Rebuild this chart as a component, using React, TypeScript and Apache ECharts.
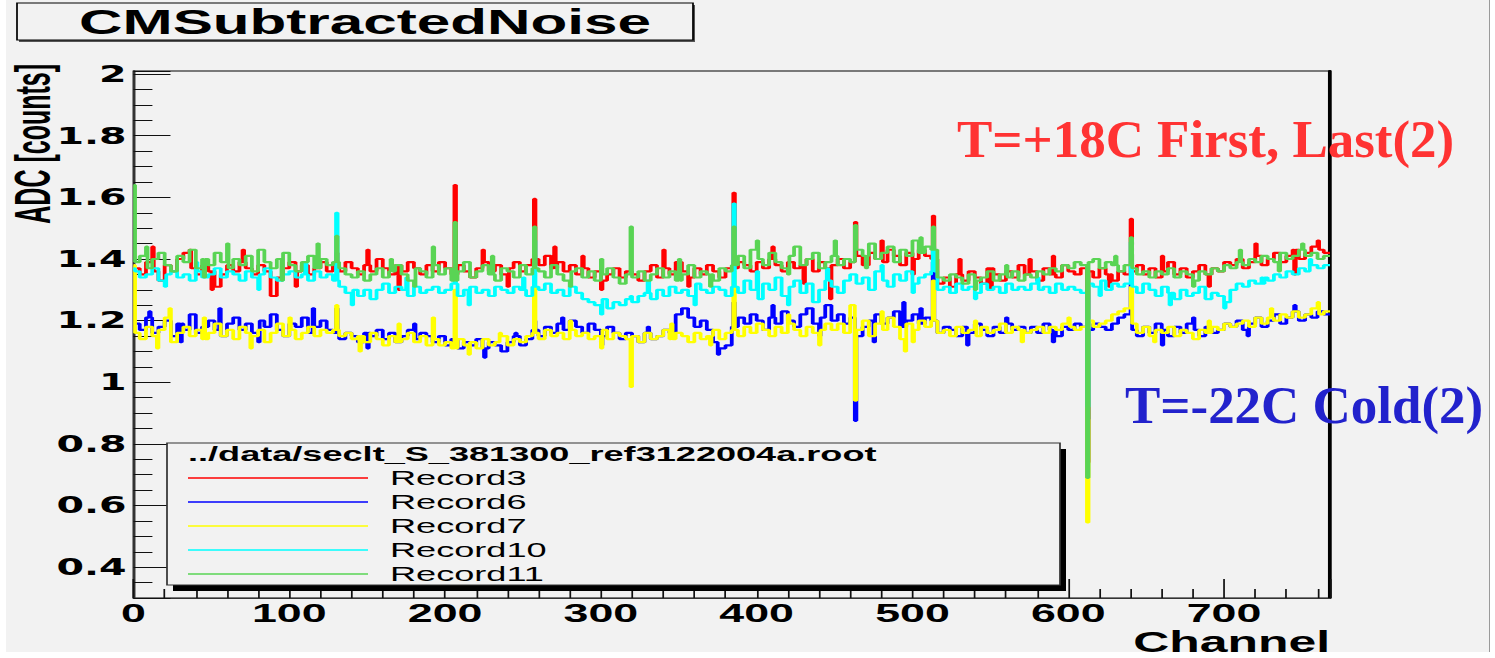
import React, { useEffect, useRef } from "react";
import * as echarts from "echarts";

// ---------------- data ----------------
const channelCount = 768;
const binWidth = 4; // channels per value in the *Bins arrays

// Record3 (red)
const record3Bins = [
  1.37,1.35,1.39,1.36,1.33,1.38,1.36,1.40,1.42,1.37,1.35,1.38,1.36,1.31,1.35,1.38,
  1.36,1.39,1.37,1.35,1.38,1.36,1.28,1.34,1.37,1.39,1.36,1.38,1.35,1.37,1.39,1.36,
  1.38,1.36,1.39,1.37,1.35,1.38,1.36,1.40,1.37,1.35,1.38,1.36,1.39,1.37,1.35,1.38,
  1.36,1.39,1.37,1.35,1.38,1.36,1.34,1.37,1.39,1.36,1.38,1.35,1.37,1.39,1.36,1.38,
  1.40,1.38,1.41,1.37,1.39,1.36,1.38,1.35,1.37,1.34,1.36,1.33,1.35,1.37,1.34,1.36,
  1.35,1.33,1.36,1.38,1.34,1.37,1.35,1.39,1.36,1.34,1.37,1.35,1.38,1.36,1.34,1.37,
  1.37,1.39,1.38,1.36,1.39,1.37,1.40,1.38,1.36,1.39,1.37,1.38,1.40,1.36,1.39,1.37,
  1.38,1.40,1.37,1.39,1.41,1.38,1.42,1.40,1.39,1.43,1.41,1.38,1.42,1.40,1.43,1.41,
  1.40,1.32,1.34,1.31,1.35,1.33,1.36,1.34,1.32,1.37,1.35,1.33,1.36,1.34,1.38,1.35,
  1.36,1.33,1.37,1.35,1.34,1.38,1.36,1.35,1.37,1.36,1.34,1.37,1.35,1.33,1.36,1.35,
  1.36,1.38,1.35,1.37,1.34,1.36,1.39,1.35,1.37,1.34,1.36,1.38,1.35,1.37,1.36,1.39,
  1.38,1.40,1.37,1.39,1.41,1.38,1.40,1.42,1.39,1.41,1.43,1.40,1.42,1.44,1.43,1.42,
];
const record3Spikes: [number, number][] = [
  [0,1.36],[36,1.43],[130,1.42],[206,1.64],[257,1.595],[288,1.41],[319,1.36],[385,1.615],
  [447,1.27],[463,1.52],[513,1.54],[575,1.40],[612,0.74],[640,1.53],
  [12,1.44],[50,1.30],[70,1.43],[104,1.31],[150,1.43],[170,1.30],[224,1.43],[240,1.31],
  [270,1.44],[300,1.30],[340,1.43],[356,1.31],[410,1.44],[430,1.32],[480,1.46],[500,1.35],
  [530,1.40],[550,1.30],[590,1.41],[626,1.31],[660,1.41],[690,1.31],[720,1.45],[745,1.35],[760,1.46],
];

// Record6 (blue)
const record6Bins = [
  1.19,1.17,1.21,1.16,1.18,1.20,1.15,1.19,1.17,1.22,1.16,1.18,1.20,1.17,1.15,1.19,
  1.21,1.17,1.19,1.16,1.20,1.18,1.22,1.17,1.15,1.19,1.18,1.21,1.16,1.18,1.20,1.17,
  1.16,1.14,1.16,1.15,1.13,1.16,1.15,1.17,1.14,1.16,1.13,1.15,1.17,1.14,1.16,1.15,
  1.13,1.15,1.12,1.14,1.11,1.13,1.12,1.14,1.11,1.13,1.12,1.10,1.13,1.15,1.12,1.14,
  1.17,1.15,1.18,1.16,1.19,1.17,1.20,1.18,1.16,1.19,1.17,1.15,1.18,1.16,1.14,1.16,
  1.15,1.13,1.16,1.14,1.15,1.17,1.16,1.22,1.24,1.21,1.18,1.20,1.17,1.13,1.11,1.12,
  1.18,1.21,1.19,1.22,1.20,1.17,1.21,1.19,1.23,1.20,1.18,1.22,1.24,1.19,1.21,1.25,
  1.20,1.22,1.19,1.21,1.15,1.18,1.20,1.22,1.19,1.21,1.23,1.18,1.20,1.22,1.19,1.21,
  1.20,1.16,1.18,1.17,1.15,1.18,1.16,1.19,1.17,1.15,1.18,1.16,1.19,1.17,1.18,1.16,
  1.18,1.16,1.19,1.17,1.15,1.18,1.17,1.19,1.18,1.17,1.19,1.18,1.17,1.19,1.21,1.22,
  1.17,1.15,1.18,1.16,1.19,1.17,1.15,1.18,1.16,1.19,1.17,1.15,1.18,1.16,1.17,1.19,
  1.18,1.20,1.17,1.19,1.21,1.18,1.20,1.22,1.19,1.21,1.23,1.20,1.22,1.21,1.23,1.22,
];
const record6Spikes: [number, number][] = [
  [0,1.19],[130,1.24],[257,1.20],[385,1.26],[463,0.875],[494,1.26],[513,1.39],[612,0.88],[640,1.32],
  [10,1.23],[30,1.13],[55,1.24],[80,1.13],[115,1.24],[150,1.11],[180,1.19],[225,1.08],
  [245,1.16],[275,1.21],[300,1.12],[330,1.18],[375,1.09],[410,1.25],[440,1.15],[475,1.13],
  [505,1.24],[535,1.12],[560,1.21],[590,1.13],[660,1.12],[680,1.21],[715,1.15],[745,1.25],
];

// Record7 (yellow)
const record7Bins = [
  1.16,1.14,1.18,1.15,1.17,1.21,1.13,1.16,1.18,1.15,1.17,1.14,1.16,1.19,1.15,1.17,
  1.14,1.18,1.16,1.15,1.17,1.13,1.16,1.19,1.15,1.17,1.14,1.16,1.18,1.15,1.17,1.16,
  1.17,1.15,1.16,1.14,1.15,1.13,1.16,1.14,1.12,1.15,1.13,1.14,1.16,1.13,1.15,1.12,
  1.14,1.12,1.13,1.11,1.14,1.12,1.13,1.11,1.14,1.12,1.13,1.15,1.12,1.14,1.13,1.15,
  1.16,1.14,1.17,1.15,1.16,1.14,1.17,1.15,1.16,1.14,1.15,1.17,1.14,1.16,1.15,1.14,
  1.15,1.13,1.16,1.14,1.15,1.17,1.14,1.16,1.15,1.13,1.16,1.14,1.15,1.17,1.14,1.16,
  1.17,1.15,1.18,1.16,1.19,1.17,1.15,1.18,1.16,1.19,1.17,1.15,1.18,1.16,1.17,1.19,
  1.17,1.19,1.16,1.25,1.17,1.20,1.15,1.19,1.17,1.21,1.18,1.14,1.19,1.17,1.20,1.18,
  1.20,1.16,1.17,1.15,1.18,1.16,1.17,1.15,1.18,1.16,1.17,1.19,1.16,1.18,1.17,1.16,
  1.17,1.18,1.16,1.18,1.17,1.19,1.18,1.17,1.18,1.20,1.18,1.19,1.20,1.22,1.23,1.24,
  1.19,1.16,1.18,1.15,1.17,1.16,1.18,1.15,1.17,1.16,1.14,1.17,1.16,1.18,1.17,1.19,
  1.18,1.19,1.20,1.18,1.21,1.19,1.21,1.20,1.22,1.21,1.23,1.21,1.22,1.24,1.22,1.23,
];
const record7Spikes: [number, number][] = [
  [0,1.38],[23,1.24],[130,1.25],[192,1.21],[206,1.30],[257,1.31],[319,0.985],[385,1.36],
  [462,1.25],[463,0.94],[495,1.10],[513,1.33],[612,0.545],[640,1.31],
  [15,1.11],[45,1.21],[75,1.11],[100,1.21],[145,1.10],[170,1.19],[215,1.09],[235,1.16],
  [280,1.20],[300,1.11],[345,1.19],[370,1.12],[420,1.22],[440,1.12],[480,1.23],[500,1.13],
  [540,1.20],[570,1.13],[600,1.21],[655,1.13],[690,1.20],[730,1.24],[760,1.26],
];

// Record10 (cyan)
const record10Bins = [
  1.36,1.34,1.35,1.37,1.33,1.35,1.36,1.34,1.35,1.33,1.36,1.34,1.35,1.37,1.34,1.36,
  1.35,1.33,1.36,1.34,1.35,1.37,1.34,1.33,1.35,1.36,1.34,1.35,1.33,1.36,1.34,1.35,
  1.33,1.31,1.29,1.30,1.28,1.30,1.27,1.30,1.32,1.29,1.31,1.30,1.28,1.31,1.29,1.30,
  1.31,1.29,1.30,1.32,1.28,1.30,1.31,1.29,1.30,1.28,1.31,1.30,1.29,1.31,1.30,1.28,
  1.31,1.30,1.32,1.29,1.30,1.28,1.31,1.29,1.27,1.26,1.25,1.27,1.24,1.26,1.25,1.27,
  1.26,1.28,1.29,1.27,1.30,1.28,1.31,1.29,1.30,1.28,1.32,1.30,1.29,1.31,1.30,1.28,
  1.31,1.29,1.33,1.30,1.27,1.32,1.30,1.34,1.28,1.31,1.33,1.29,1.32,1.26,1.30,1.33,
  1.31,1.29,1.33,1.35,1.32,1.34,1.30,1.36,1.33,1.31,1.35,1.33,1.36,1.32,1.34,1.35,
  1.36,1.30,1.31,1.29,1.32,1.30,1.31,1.29,1.32,1.30,1.31,1.29,1.32,1.30,1.31,1.30,
  1.32,1.30,1.31,1.29,1.32,1.30,1.31,1.30,1.29,1.32,1.31,1.33,1.30,1.32,1.31,1.32,
  1.31,1.29,1.32,1.30,1.28,1.31,1.29,1.27,1.30,1.28,1.29,1.31,1.27,1.29,1.28,1.26,
  1.30,1.32,1.31,1.33,1.32,1.34,1.33,1.35,1.34,1.36,1.35,1.37,1.36,1.38,1.37,1.38,
];
const record10Spikes: [number, number][] = [
  [0,1.37],[130,1.55],[206,1.36],[257,1.46],[319,1.28],[385,1.58],[513,1.44],[612,0.92],[640,1.455],
  [20,1.31],[40,1.39],[80,1.30],[110,1.39],[140,1.25],[175,1.34],[215,1.25],[250,1.34],
  [300,1.22],[330,1.33],[360,1.25],[400,1.36],[420,1.25],[445,1.37],[480,1.38],[500,1.29],
  [540,1.27],[580,1.34],[620,1.28],[665,1.25],[700,1.24],[725,1.32],[755,1.40],
];

// Record11 (green)
const record11Bins = [
  1.39,1.41,1.37,1.40,1.42,1.38,1.36,1.41,1.39,1.43,1.37,1.40,1.38,1.42,1.39,1.37,
  1.40,1.38,1.41,1.36,1.43,1.39,1.37,1.40,1.42,1.38,1.36,1.39,1.41,1.37,1.40,1.38,
  1.39,1.37,1.35,1.34,1.36,1.33,1.35,1.37,1.34,1.36,1.38,1.35,1.33,1.37,1.36,1.34,
  1.38,1.35,1.37,1.33,1.36,1.39,1.34,1.36,1.38,1.35,1.33,1.37,1.36,1.34,1.38,1.35,
  1.37,1.36,1.34,1.38,1.35,1.33,1.36,1.37,1.34,1.36,1.33,1.35,1.37,1.34,1.32,1.35,
  1.34,1.36,1.33,1.35,1.37,1.34,1.36,1.33,1.35,1.38,1.34,1.36,1.35,1.33,1.37,1.36,
  1.38,1.41,1.37,1.43,1.40,1.38,1.42,1.39,1.37,1.41,1.44,1.38,1.40,1.42,1.37,1.39,
  1.41,1.38,1.40,1.39,1.43,1.41,1.45,1.40,1.42,1.44,1.39,1.43,1.41,1.46,1.42,1.44,
  1.43,1.34,1.33,1.35,1.34,1.32,1.35,1.33,1.34,1.36,1.33,1.35,1.34,1.36,1.33,1.35,
  1.34,1.36,1.35,1.37,1.36,1.38,1.37,1.39,1.38,1.39,1.40,1.37,1.39,1.38,1.36,1.38,
  1.37,1.35,1.36,1.34,1.36,1.35,1.37,1.34,1.36,1.35,1.33,1.36,1.35,1.37,1.36,1.38,
  1.37,1.39,1.38,1.40,1.39,1.41,1.40,1.39,1.42,1.40,1.41,1.43,1.41,1.42,1.40,1.41,
];
const record11Spikes: [number, number][] = [
  [0,1.64],[130,1.475],[192,1.44],[206,1.52],[257,1.505],[319,1.505],[385,1.505],
  [463,1.51],[513,1.505],[612,0.69],[640,1.47],
  [8,1.44],[45,1.34],[60,1.45],[95,1.33],[118,1.45],[165,1.40],[180,1.31],[230,1.41],
  [280,1.31],[300,1.40],[350,1.40],[370,1.31],[400,1.46],[420,1.35],[450,1.46],[470,1.37],
  [505,1.47],[540,1.30],[560,1.38],[630,1.41],[680,1.31],[710,1.43],[735,1.36],[750,1.45],
];

const seriesNames = ["Record3", "Record6", "Record7", "Record10", "Record11"];
const seriesColors = ["#ff0000", "#0000ff", "#ffff00", "#00ffff", "#59d454"];
const seriesBins = [record3Bins, record6Bins, record7Bins, record10Bins, record11Bins];
const seriesSpikes = [record3Spikes, record6Spikes, record7Spikes, record10Spikes, record11Spikes];

const yMin = 0.3;
const yMax = 2.01;
const yTickStep = 0.2;
const xTickStep = 100;

const titleText = "CMSubtractedNoise";
const xAxisTitle = "Channel";
const yAxisTitle = "ADC [counts]";
const legendHeader = "../data/seclt_S_381300_ref3122004a.root";
const hotLabel = "T=+18C First, Last(2)";
const coldLabel = "T=-22C Cold(2)";

// ---------------- layout ----------------
const PAGE_W = 1495;
const PAGE_H = 658;
const CW = 869; // chart drawn at this width, then stretched horizontally (like the reference)
const S = PAGE_W / CW;
const vx = (px: number) => px / S;

const SANS = '"Liberation Sans", Arial, Helvetica, sans-serif';
const SERIF = '"Liberation Serif", "Times New Roman", serif';

function buildHist(bins: number[], spikes: [number, number][]): [number, number][] {
  const vals: number[] = [];
  for (let c = 0; c < channelCount; c++) vals.push(bins[Math.floor(c / binWidth)]);
  spikes.forEach(([c, v]) => {
    vals[c] = v;
  });
  const pts: [number, number][] = vals.map((v, c) => [c, v] as [number, number]);
  pts.push([channelCount, vals[channelCount - 1]]);
  return pts;
}

function textStyle(text: string, font: string, fill: string, align: string, valign: string) {
  return {
    text,
    font,
    fill,
    textAlign: align,
    textVerticalAlign: valign,
    align,
    verticalAlign: valign,
  };
}

function buildOption() {
  const grid = {
    left: vx(133.5),
    right: CW - vx(1330),
    top: 71,
    bottom: PAGE_H - 598,
  };

  const series = seriesNames.map((name, i) => ({
    name,
    type: "line",
    step: "end",
    data: buildHist(seriesBins[i], seriesSpikes[i]),
    showSymbol: false,
    symbol: "none",
    silent: true,
    clip: true,
    lineStyle: { color: seriesColors[i], width: 2.2 },
    itemStyle: { color: seriesColors[i] },
  }));

  const legendX = 167;
  const legendY = 443;
  const legendW = 893;
  const legendH = 142;
  const entryY0 = 478;
  const entryStep = 24;

  const elements: any[] = [
    // title box
    {
      type: "rect",
      z: 100,
      shape: { x: vx(19), y: 5, width: vx(676), height: 37 },
      style: { fill: "#555" },
    },
    {
      type: "rect",
      z: 101,
      shape: { x: vx(17), y: 3, width: vx(676), height: 37 },
      style: { fill: "#f2f2f2", stroke: "#000", lineWidth: 1 },
    },
    {
      type: "text",
      z: 102,
      x: vx(365),
      y: 22,
      style: textStyle(titleText, `bold 35px ${SANS}`, "#000", "center", "middle"),
    },
    // y axis title (rotated)
    {
      type: "text",
      z: 102,
      x: vx(7),
      y: 64,
      rotation: Math.PI / 2,
      scaleY: 1.18,
      style: textStyle(yAxisTitle, `bold 25px ${SANS}`, "#000", "right", "top"),
    },
    // x axis title
    {
      type: "text",
      z: 102,
      x: vx(1330),
      y: 642.5,
      style: textStyle(xAxisTitle, `bold 29px ${SANS}`, "#000", "right", "middle"),
    },
    // legend
    {
      type: "rect",
      z: 100,
      shape: { x: vx(legendX + 6), y: legendY + 6, width: vx(legendW), height: legendH },
      style: { fill: "#000" },
    },
    {
      type: "rect",
      z: 101,
      shape: { x: vx(legendX), y: legendY, width: vx(legendW), height: legendH },
      style: { fill: "#f2f2f2", stroke: "#333", lineWidth: 1 },
    },
    {
      type: "text",
      z: 102,
      x: vx(188),
      y: 454,
      style: textStyle(legendHeader, `bold 21px ${SANS}`, "#000", "left", "middle"),
    },
    // annotations (drawn unstretched)
    {
      type: "text",
      z: 102,
      x: vx(957),
      y: 139,
      scaleX: 1 / S,
      style: textStyle(hotLabel, `bold 53px ${SERIF}`, "#ff3333", "left", "middle"),
    },
    {
      type: "text",
      z: 102,
      x: vx(1125),
      y: 405,
      scaleX: 1 / S,
      style: textStyle(coldLabel, `bold 53px ${SERIF}`, "#2222cc", "left", "middle"),
    },
  ];

  seriesNames.forEach((name, i) => {
    const y = entryY0 + entryStep * i;
    elements.push({
      type: "line",
      z: 102,
      shape: { x1: vx(188), y1: y, x2: vx(368), y2: y },
      style: { stroke: seriesColors[i], lineWidth: 1.5 },
    });
    elements.push({
      type: "text",
      z: 102,
      x: vx(390),
      y,
      style: textStyle(name, `21px ${SANS}`, "#000", "left", "middle"),
    });
  });

  return {
    animation: false,
    backgroundColor: "transparent",
    tooltip: { show: false },
    grid: {
      ...grid,
      show: true,
      borderColor: "#000",
      borderWidth: 1,
      backgroundColor: "transparent",
    },
    xAxis: [
      {
        type: "value",
        position: "bottom",
        min: 0,
        max: channelCount,
        interval: xTickStep,
        axisLine: { show: true, onZero: false, lineStyle: { color: "#333", width: 1 } },
        axisTick: { show: true, inside: true, length: 19, lineStyle: { color: "#111", width: 1 } },
        minorTick: { show: true, splitNumber: 5, length: 9, lineStyle: { color: "#111", width: 1 } },
        splitLine: { show: false },
        minorSplitLine: { show: false },
        axisLabel: {
          show: true,
          margin: 2,
          color: "#000",
          fontFamily: SANS,
          fontWeight: "bold",
          fontSize: 26,
          formatter: (v: number) => (Math.abs(v % xTickStep) < 1e-6 ? String(v) : ""),
        },
      },
    ],
    yAxis: [
      {
        type: "value",
        position: "left",
        min: yMin,
        max: yMax,
        splitNumber: 8,
        axisLine: { show: true, onZero: false, lineStyle: { color: "#333", width: 1.5 } },
        axisTick: { show: true, inside: true, length: 21.5, lineStyle: { color: "#111", width: 1 } },
        minorTick: { show: true, splitNumber: 4, length: 11, lineStyle: { color: "#111", width: 1 } },
        splitLine: { show: false },
        minorSplitLine: { show: false },
        axisLabel: {
          show: true,
          margin: 4,
          color: "#000",
          fontFamily: '"DejaVu Sans", sans-serif',
          fontWeight: "bold",
          fontSize: 23,
          formatter: (v: number) => {
            const k = Math.round(v / yTickStep);
            if (Math.abs(v - k * yTickStep) > 1e-6) return "";
            return String(Math.round(k * yTickStep * 10) / 10);
          },
        },
      },
      {
        type: "value",
        position: "right",
        min: yMin,
        max: yMax,
        splitNumber: 8,
        axisLine: { show: true, onZero: false, lineStyle: { color: "#000", width: 2.2 } },
        axisTick: { show: false },
        axisLabel: { show: false },
        splitLine: { show: false },
      },
    ],
    series,
    graphic: { elements },
  };
}

export default function App() {
  const ref = useRef<HTMLDivElement>(null);
  useEffect(() => {
    document.body.style.margin = "0";
    const chart = echarts.init(ref.current as HTMLDivElement, null, { renderer: "svg" });
    chart.setOption(buildOption() as any);
    return () => {
      chart.dispose();
    };
  }, []);
  return (
    <div
      style={{
        position: "fixed",
        left: 0,
        top: 0,
        width: PAGE_W,
        height: PAGE_H,
        background: "#ffffff",
        overflow: "hidden",
      }}
    >
      <div
        style={{
          position: "absolute",
          left: 6,
          top: 0,
          width: 1483,
          height: 652,
          background: "#f2f2f2",
          borderRight: "1px solid #9a9a9a",
        }}
      />
      <div
        ref={ref}
        style={{
          position: "absolute",
          left: 0,
          top: 0,
          width: CW,
          height: PAGE_H,
          transform: `scaleX(${S})`,
          transformOrigin: "0 0",
        }}
      />
    </div>
  );
}
